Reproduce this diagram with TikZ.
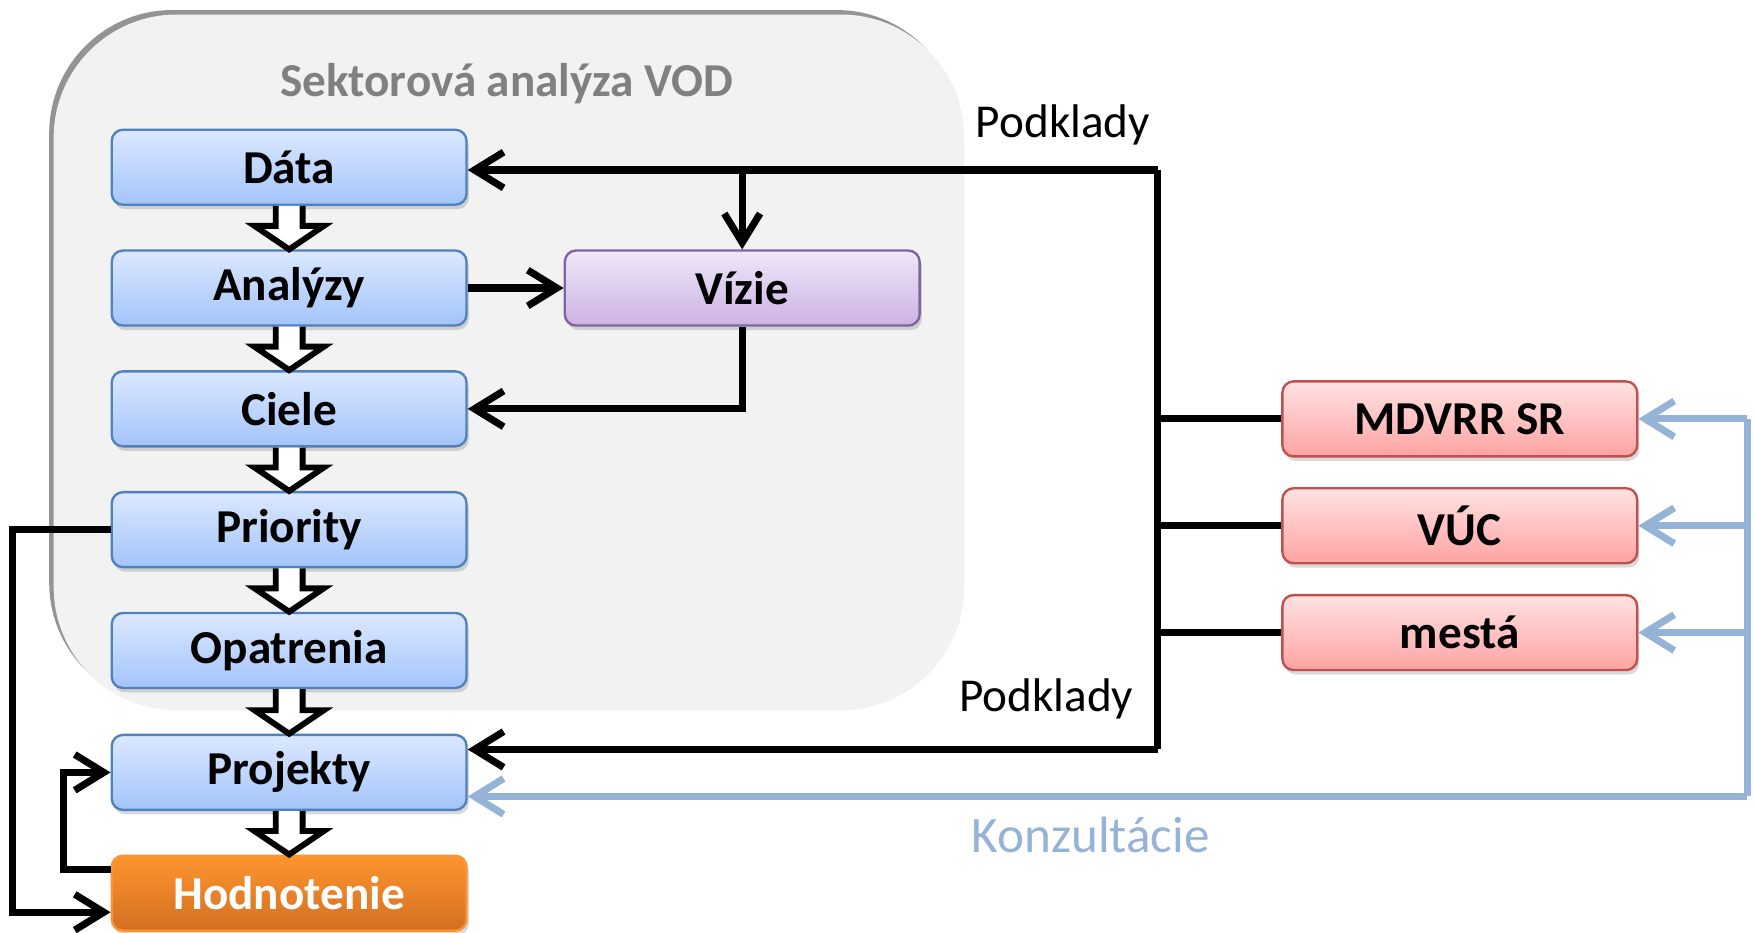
\documentclass[tikz,border=0pt]{standalone}
\usepackage{fontspec}
\setmainfont{Carlito}
\usetikzlibrary{arrows.meta,calc,shadows}

\definecolor{contgray}{HTML}{F2F2F2}
\definecolor{titlegray}{HTML}{808080}
\definecolor{bluetop}{HTML}{DCE8FF}
\definecolor{bluebot}{HTML}{A3C4FA}
\definecolor{blueline}{HTML}{4F81BD}
\definecolor{violettop}{HTML}{EFE7F9}
\definecolor{violetbot}{HTML}{CCB2E2}
\definecolor{violetline}{HTML}{8064A2}
\definecolor{redtop}{HTML}{FFE2E2}
\definecolor{redbot}{HTML}{FFA3A3}
\definecolor{redline}{HTML}{C0504D}
\definecolor{orangetop}{HTML}{FC952F}
\definecolor{orangebot}{HTML}{D36F22}
\definecolor{konzblue}{HTML}{95B3D7}

\tikzset{
  box/.style={rectangle,rounded corners=0.1cm,minimum width=3.17cm,minimum height=0.67cm,
    line width=0.6pt,font=\fontsize{12}{14}\selectfont\bfseries,
    drop shadow={shadow xshift=0.02cm,shadow yshift=-0.04cm,opacity=0.3}},
  bluebox/.style={box,draw=blueline,top color=bluetop,bottom color=bluebot},
  violetbox/.style={box,draw=violetline,top color=violettop,bottom color=violetbot},
  redbox/.style={box,draw=redline,top color=redtop,bottom color=redbot},
  orangebox/.style={box,draw=orangetop,top color=orangetop,bottom color=orangebot,text=white},
  conn/.style={line width=1.8pt,>={Straight Barb[length=2.6mm,width=3.2mm]}},
  konz/.style={conn,draw=konzblue},
  blockarrow/.style={draw,fill=white,line width=1.5pt,line join=miter},
  label/.style={font=\fontsize{12}{14}\selectfont},
}

\begin{document}
\begin{tikzpicture}[x=0.01cm,y=-0.01cm]
\useasboundingbox (0,0) rectangle (1568,834);

% ramec sektorovej analyzy
\fill[contgray,rounded corners=1.1cm,
  drop shadow={shadow xshift=-0.04cm,shadow yshift=0.04cm,opacity=0.6,fill=black!70}] (48,13) rectangle (862,635);
\node[font=\fontsize{12}{14}\selectfont\bfseries,text=titlegray] (title) at (453,75) {Sektorová analýza VOD};

% kroky
\node[bluebox] (data) at (258.5,149.5) {Dáta};
\node[bluebox] (analyzy) at (258.5,257.5) {Analýzy};
\node[bluebox] (ciele) at (258.5,365.5) {Ciele};
\node[bluebox] (priority) at (258.5,473.5) {Priority};
\node[bluebox] (opatrenia) at (258.5,581.5) {Opatrenia};
\node[bluebox] (projekty) at (258.5,690.5) {Projekty};
\node[orangebox] (hodnotenie) at (258.5,798.5) {Hodnotenie};
\node[violetbox] (vizie) at (663.5,257.5) {Vízie};

\node[redbox] (mdvrr) at (1305,374.5) {MDVRR SR};
\node[redbox] (vuc) at (1305,470) {VÚC};
\node[redbox] (mesta) at (1305,565.5) {mestá};

% sipky medzi krokmi
\foreach \a/\b in {data/analyzy,analyzy/ciele,ciele/priority,priority/opatrenia,opatrenia/projekty,projekty/hodnotenie}{
\draw[blockarrow,xshift=0.04cm] ($(\a.south)+(-12,0)$) -- ($(\b.north)+(-12,-21)$) -- ++(-19,0) -- (\b.north)
  -- ++(31,-21) -- ++(-19,0) -- ($(\a.south)+(12,0)$);
}

% podklady
\coordinate (bustop) at (1035,152);
\coordinate (busbot) at (1035,670);
\draw[conn,->] (bustop) -- (data.east |- bustop);
\draw[conn,->] (vizie.north |- bustop) -- (vizie.north);
\draw[conn] (bustop) -- (busbot);
\draw[conn,->] (busbot) -- (projekty.east |- busbot);
\foreach \n in {mdvrr,vuc,mesta}
\draw[conn] (\n.west) -- (bustop |- \n.west);
\node[label,anchor=west] (podkladyA) at (860,112) {Podklady};
\node[label,anchor=west] (podkladyB) at (845,625) {Podklady};

\draw[conn,->] (analyzy) -- (vizie);
\draw[conn,->] (vizie.south) |- (ciele.east);

% spatna vazba
\draw[conn,->] (priority.west) -- ++(-88,0) |- ($(hodnotenie.west)+(0,17)$);
\draw[conn,->] ($(hodnotenie.west)+(0,-21)$) -- ++(-42,0) |- (projekty.west);

% konzultacie
\coordinate (kright) at (1562,712);
\draw[konz,->] (kright) -- (projekty.east |- kright);
\draw[konz] (kright) -- (kright |- mdvrr.east);
\foreach \n in {mdvrr,vuc,mesta}
\draw[konz,->] (kright |- \n.east) -- (\n.east);
\node[font=\fontsize{13}{15}\selectfont,text=konzblue] (konzlabel) at (975,746) {Konzultácie};

\end{tikzpicture}
\end{document}
